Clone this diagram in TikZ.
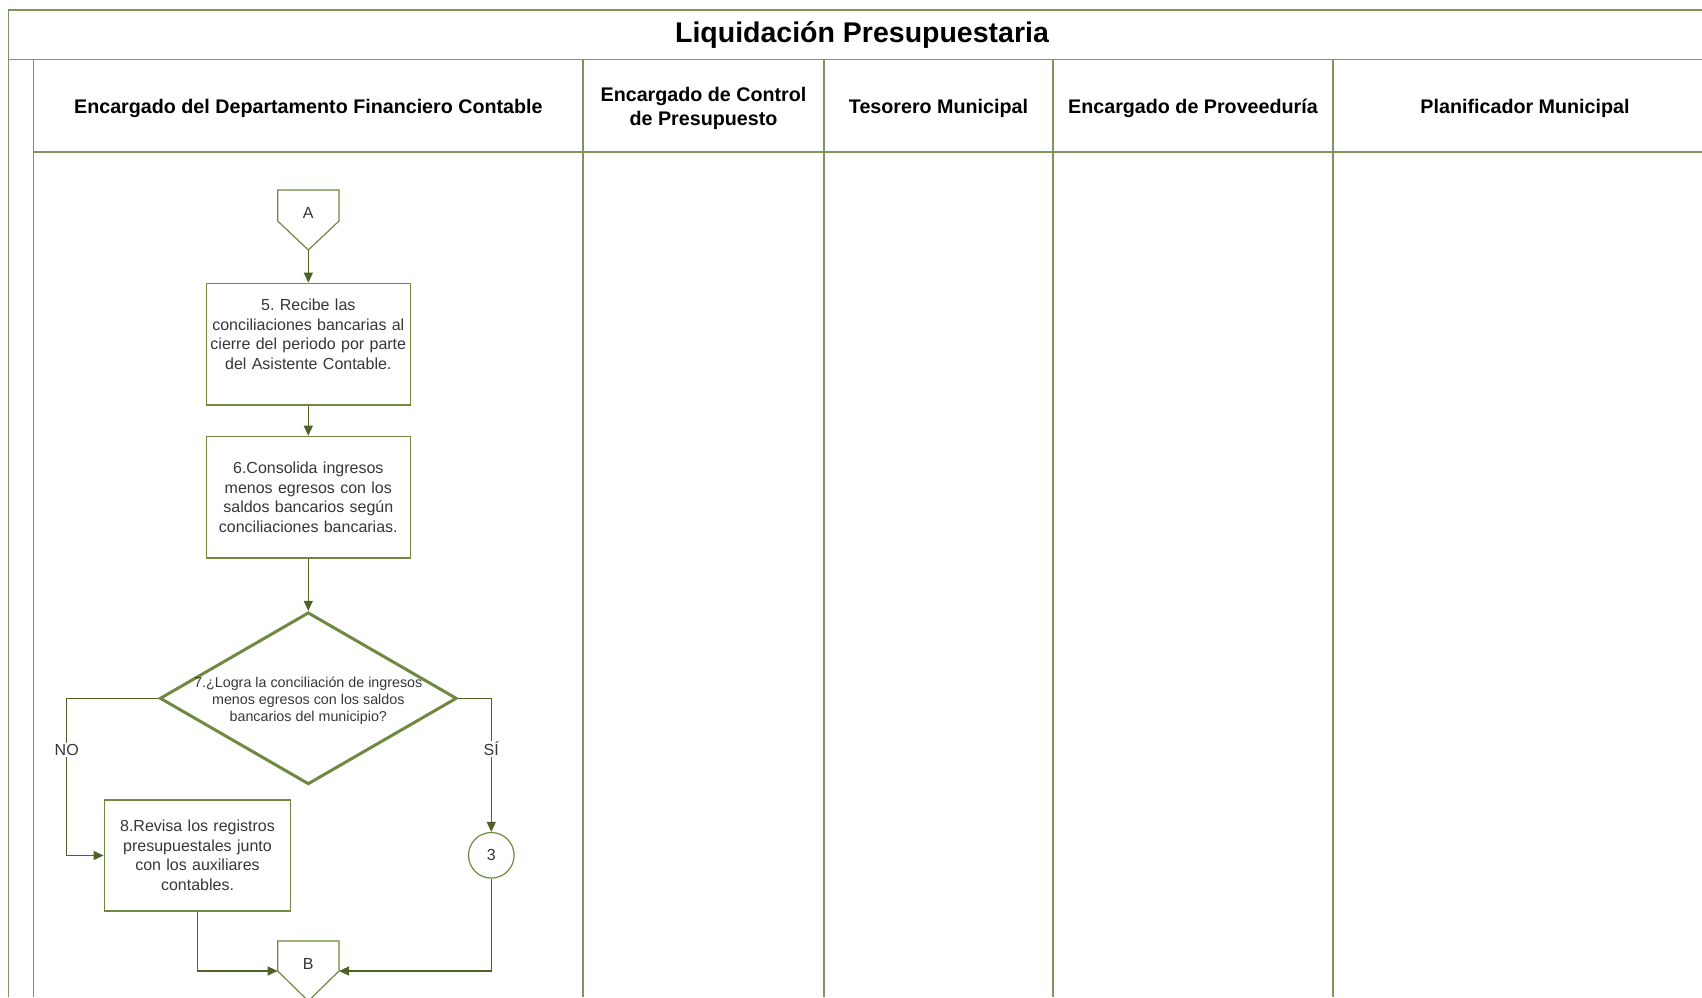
\documentclass[tikz,border=0pt]{standalone}
\usepackage{fontspec}
\setmainfont{Liberation Sans}
\frenchspacing
\usetikzlibrary{shapes.geometric,arrows.meta}
\definecolor{linea}{RGB}{128,148,96}
\definecolor{forma}{RGB}{112,136,64}
\definecolor{flecha}{RGB}{79,98,40}
\definecolor{texto}{RGB}{55,55,55}

\begin{document}
\begin{tikzpicture}[x=1pt,y=-1pt,
  encabezado/.style={font=\bfseries\fontsize{19.7}{24}\selectfont,align=center},
  caja/.style={draw=forma,line width=1.2pt,align=center,text=texto,text width=196pt,
    font=\fontsize{16}{19.5}\selectfont},
  rombo/.style={diamond,draw=forma,line width=3pt,minimum width=297pt,minimum height=172pt,inner sep=0pt},
  conector/.style={draw=forma,line width=1.2pt},
  flechita/.style={flecha,line width=1.1pt,-{Triangle[length=10pt,width=9pt]}},
  etiqueta/.style={text=texto,font=\fontsize{16}{19}\selectfont}]
 \useasboundingbox (0,0) rectangle (1702,997);
 \fill[white] (0,0) rectangle (1702,997);
 \draw[linea,line width=1.5pt] (1702,9.8) -- (8.7,9.8) -- (8.7,997);
 \draw[linea,line width=1.5pt] (8.7,59.7) -- (1702,59.7);
 \draw[linea,line width=1.3pt] (33.7,59.7) -- (33.7,997);
 \draw[linea,line width=1.3pt] (33.7,152) -- (1702,152);
 \foreach \x in {583,824,1053,1333}
  \draw[linea,line width=1.3pt] (\x,59.7) -- (\x,997);
 \node[font=\bfseries\fontsize{28.5}{34}\selectfont] (titulo) at (862,35.2) {Liquidación Presupuestaria};
 \node[encabezado] (h1) at (308.4,108.3) {Encargado del Departamento Financiero Contable};
 \node[encabezado] (h2) at (703.5,108.3) {Encargado de Control\\de Presupuesto};
 \node[encabezado] (h3) at (938.5,108.3) {Tesorero Municipal};
 \node[encabezado] (h4) at (1193,108.3) {Encargado de Proveeduría};
 \node[encabezado] (h5) at (1525,108.3) {Planificador Municipal};

 \draw[conector] (277.7,190) -- (339,190) -- (339,221) -- (308.3,250) -- (277.7,221) -- cycle;
 \node[etiqueta] (A) at (308.3,213) {A};
 \coordinate (Apunta) at (308.3,250);
 \node[caja,minimum width=204pt,minimum height=121.6pt] (b5) at (308.3,344.1)
  {5. Recibe las\\conciliaciones bancarias al\\cierre del periodo por parte\\del Asistente Contable.\\ \mbox{}};
 \node[caja,minimum width=204pt,minimum height=121.6pt] (b6) at (308.3,497.1)
  {6.Consolida ingresos\\menos egresos con los\\saldos bancarios según\\conciliaciones bancarias.};
 \node[rombo] (d7) at (308.3,698.3) {};
 \node[text=texto,font=\fontsize{14.3}{17.2}\selectfont,align=center] (t7) at (308.3,701)
  {7.¿Logra la conciliación de ingresos\\menos egresos con los saldos\\bancarios del municipio?};
 \node[caja,text width=180pt,minimum width=186.5pt,minimum height=111pt] (b8) at (197.5,855.5)
  {8.Revisa los registros\\presupuestales junto\\con los auxiliares\\contables.};
 \node[conector,circle,minimum size=45.6pt,inner sep=0pt,etiqueta] (c3) at (491.3,855.3) {3};
 \draw[conector] (277.7,941) -- (339,941) -- (339,971) -- (308.3,1001) -- (277.7,971) -- cycle;
 \node[etiqueta] (B) at (308.3,964) {B};
 \coordinate (noc) at (66.7,698.3);
 \coordinate (sic) at (491.3,698.3);
 \coordinate (Bizq) at (277.7,971);
 \coordinate (Bder) at (339,971);

 \draw[flechita] (Apunta) -- (b5.north);
 \draw[flechita] (b5.south) -- (b6.north);
 \draw[flechita] (b6.south) -- (d7.north);
 \draw[flechita] (d7.west) -- (noc) |- (b8.west);
 \draw[flechita] (d7.east) -- (sic) -- (c3.north);
 \draw[flechita] (b8.south) |- (Bizq);
 \draw[flechita] (c3.south) |- (Bder);
 \node[etiqueta,fill=white,inner sep=1pt] (lno) at (66.7,750) {NO};
 \node[etiqueta,fill=white,inner sep=1pt] (lsi) at (491.3,749) {SÍ};
\end{tikzpicture}
\end{document}
